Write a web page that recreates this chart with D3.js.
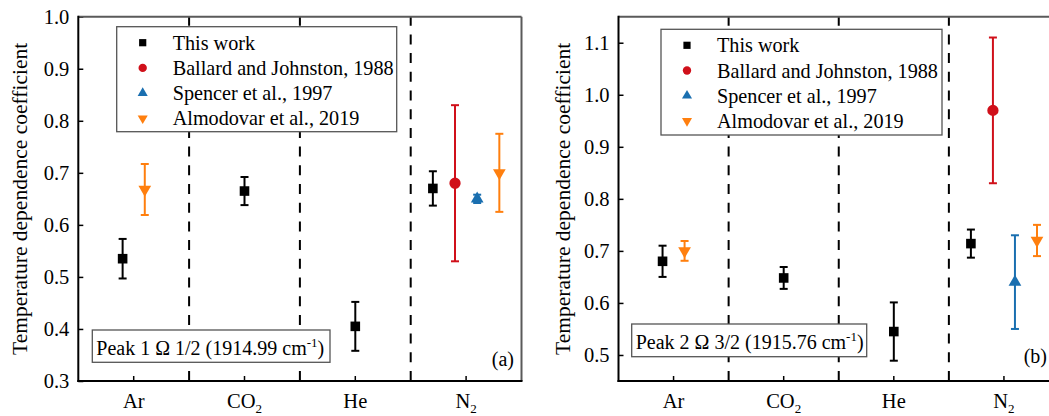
<!DOCTYPE html>
<html>
<head>
<meta charset="utf-8">
<script src="https://cdn.jsdelivr.net/npm/d3@7"></script>
<style>
  html, body { margin: 0; padding: 0; background: #fff; }
  svg { display: block; font-family: "Liberation Serif", "Times New Roman", serif; }
</style>
</head>
<body>
<svg id="chart" width="1049" height="416"></svg>
<script>
// Gas categories along the x axis
const categories = ["Ar", "CO2", "He", "N2"];
const categoryLabels = [["Ar", ""], ["CO", "2"], ["He", ""], ["N", "2"]];

// Data sources (series)
const seriesNames = ["This work", "Ballard and Johnston, 1988", "Spencer et al., 1997", "Almodovar et al., 2019"];

// Peak 1 (Ω 1/2) temperature dependence coefficients and uncertainties
const thisWorkA = [0.535, 0.665, 0.405, 0.670];
const thisWorkErrA = [0.038, 0.027, 0.047, 0.033];
const ballardA = [null, null, null, 0.680];
const ballardErrA = [null, null, null, 0.150];
const spencerA = [null, null, null, 0.650];
const spencerErrA = [null, null, null, 0.008];
const almodovarA = [0.668, null, null, 0.700];
const almodovarErrA = [0.049, null, null, 0.075];

// Peak 2 (Ω 3/2) temperature dependence coefficients and uncertainties
const thisWorkB = [0.680, 0.648, 0.545, 0.714];
const thisWorkErrB = [0.030, 0.021, 0.056, 0.027];
const ballardB = [null, null, null, 0.970];
const ballardErrB = [null, null, null, 0.140];
const spencerB = [null, null, null, 0.640];
const spencerErrB = [null, null, null, 0.090];
const almodovarB = [0.700, null, null, 0.720];
const almodovarErrB = [0.019, null, null, 0.030];

// Y axis tick values
const yTicksA = [0.3, 0.4, 0.5, 0.6, 0.7, 0.8, 0.9, 1.0];
const yTicksB = [0.5, 0.6, 0.7, 0.8, 0.9, 1.0, 1.1];

// Styling for each series
const seriesStyle = [
  { color: "#000000", symbol: d3.symbolSquare, size: 92, rotate: 0, legendSize: 52 },
  { color: "#d0101a", symbol: d3.symbolCircle, size: 100, rotate: 0, legendSize: 55 },
  { color: "#1a6fb0", symbol: d3.symbolTriangle, size: 70, rotate: 0, legendSize: 44 },
  { color: "#ff7f0e", symbol: d3.symbolTriangle, size: 70, rotate: 180, legendSize: 44 }
];

const svg = d3.select("#chart");

function drawPanel(cfg) {
  const g = svg.append("g");
  const x = d3.scaleBand().domain(categories).range([cfg.left, cfg.right]).padding(0);
  const y = d3.scaleLinear().domain(cfg.yDomain).range([cfg.bottom, cfg.top]);
  const step = x.bandwidth() * 0.2;

  // Category separators
  const bounds = categories.slice(1).map(c => x(c));
  g.selectAll(".sep").data(bounds).join("line")
    .attr("x1", d => d).attr("x2", d => d)
    .attr("y1", cfg.bottom).attr("y2", cfg.top)
    .attr("stroke", "#000").attr("stroke-width", 2)
    .attr("stroke-dasharray", "10,8.7");

  // Y axis
  const yAxis = d3.axisLeft(y).tickValues(cfg.yTicks).tickSizeInner(-5).tickSizeOuter(0)
    .tickPadding(9).tickFormat(d3.format(".1f"));
  const ya = g.append("g").attr("transform", `translate(${cfg.left},0)`).call(yAxis);
  ya.select(".domain").remove();
  ya.selectAll(".tick line").attr("stroke", "#000").attr("stroke-width", 1.5);
  ya.selectAll(".tick text").attr("font-size", 20.5).attr("fill", "#000")
    .attr("font-family", "Liberation Serif");

  // X axis ticks (inward)
  const xAxis = d3.axisBottom(x).tickSizeInner(-5).tickSizeOuter(0).tickFormat("");
  const xa = g.append("g").attr("transform", `translate(0,${cfg.bottom})`).call(xAxis);
  xa.select(".domain").remove();
  xa.selectAll(".tick line").attr("stroke", "#000").attr("stroke-width", 1.5);

  // Category labels with subscripts
  const lab = g.selectAll(".catlab").data(categories).join("text")
    .attr("x", d => x(d) + x.bandwidth() / 2)
    .attr("y", 408)
    .attr("text-anchor", "middle")
    .attr("font-size", 20.5)
    .attr("fill", "#000");
  lab.each(function(d, i) {
    const t = d3.select(this);
    t.append("tspan").text(categoryLabels[i][0]);
    if (categoryLabels[i][1]) {
      t.append("tspan").attr("font-size", 13).attr("dy", 4.5).text(categoryLabels[i][1]);
    }
  });

  // Frame: top/right gray, left/bottom black
  g.append("line").attr("x1", cfg.left).attr("x2", cfg.right).attr("y1", cfg.top).attr("y2", cfg.top)
    .attr("stroke", "#5a5a5a").attr("stroke-width", 2);
  g.append("line").attr("x1", cfg.right).attr("x2", cfg.right).attr("y1", cfg.top).attr("y2", cfg.bottom)
    .attr("stroke", "#5a5a5a").attr("stroke-width", 2);
  g.append("line").attr("x1", cfg.left).attr("x2", cfg.left).attr("y1", cfg.top - 1).attr("y2", cfg.bottom + 1)
    .attr("stroke", "#000").attr("stroke-width", 2);
  g.append("line").attr("x1", cfg.left - 1).attr("x2", cfg.right + 1).attr("y1", cfg.bottom).attr("y2", cfg.bottom)
    .attr("stroke", "#000").attr("stroke-width", 2);

  // Legend box (white fill over separators)
  const lg = g.append("g");
  lg.append("rect")
    .attr("x", cfg.legend.x).attr("y", cfg.legend.y)
    .attr("width", cfg.legend.w).attr("height", cfg.legend.h)
    .attr("fill", "#fff").attr("stroke", "#555").attr("stroke-width", 1.3);
  seriesNames.forEach((name, i) => {
    const cy = cfg.legend.y + 16 + i * 25.2;
    const st = seriesStyle[i];
    lg.append("path")
      .attr("d", d3.symbol(st.symbol, st.legendSize)())
      .attr("transform", `translate(${cfg.legend.x + 26},${cy}) rotate(${st.rotate})`)
      .attr("fill", st.color);
    lg.append("text")
      .attr("x", cfg.legend.x + 56).attr("y", cy + 7)
      .attr("font-size", 20.2).attr("fill", "#000").text(name);
  });

  // Series data points with error bars
  const values = cfg.values;
  const errs = cfg.errs;
  categories.forEach((c, ci) => {
    const present = seriesNames.map((s, si) => si).filter(si => values[si][ci] != null);
    const n = present.length;
    const sub = d3.scalePoint().domain(present).range([-(n - 1) / 2 * step, (n - 1) / 2 * step]);
    present.forEach(si => {
      const v = values[si][ci], e = errs[si][ci];
      const st = seriesStyle[si];
      const cx = x(c) + x.bandwidth() / 2 + (n > 1 ? sub(si) : 0);
      const cap = 4;
      const eg = g.append("g").attr("stroke", st.color).attr("stroke-width", 2);
      eg.append("line").attr("x1", cx).attr("x2", cx).attr("y1", y(v - e)).attr("y2", y(v + e));
      eg.append("line").attr("x1", cx - cap).attr("x2", cx + cap).attr("y1", y(v + e)).attr("y2", y(v + e));
      eg.append("line").attr("x1", cx - cap).attr("x2", cx + cap).attr("y1", y(v - e)).attr("y2", y(v - e));
      g.append("path")
        .attr("d", d3.symbol(st.symbol, st.size)())
        .attr("transform", `translate(${cx},${y(v)}) rotate(${st.rotate})`)
        .attr("fill", st.color);
    });
  });

  // Peak annotation box
  const ab = cfg.annot;
  g.append("rect").attr("x", ab.x).attr("y", ab.y).attr("width", ab.w).attr("height", ab.h)
    .attr("fill", "#fff").attr("stroke", "#555").attr("stroke-width", 1.3);
  const at = g.append("text").attr("x", ab.x + 4).attr("y", ab.y + 25)
    .attr("font-size", 20).attr("fill", "#000");
  at.append("tspan").text(ab.text);
  at.append("tspan").attr("font-size", 13).attr("dy", -8).text("-1");
  at.append("tspan").attr("dy", 8).text(")");

  // Panel letter
  g.append("text").attr("x", cfg.letter.x).attr("y", cfg.letter.y)
    .attr("text-anchor", "end").attr("font-size", 20).attr("fill", "#000").text(cfg.letter.text);

  // Y axis title
  g.append("text")
    .attr("transform", `translate(${cfg.titleX},${(cfg.top + cfg.bottom) / 2}) rotate(-90)`)
    .attr("text-anchor", "middle").attr("font-size", 21.5).attr("fill", "#000")
    .text("Temperature dependence coefficient");
}

drawPanel({
  left: 78.3, right: 521.5, top: 16.7, bottom: 381,
  yDomain: [0.3, 1.0], yTicks: yTicksA,
  values: [thisWorkA, ballardA, spencerA, almodovarA],
  errs: [thisWorkErrA, ballardErrA, spencerErrA, almodovarErrA],
  legend: { x: 116.7, y: 26.7, w: 280, h: 105 },
  annot: { x: 92.3, y: 330, w: 237.7, h: 32.3, text: "Peak 1 \u03A9 1/2 (1914.99 cm" },
  letter: { x: 514, y: 366, text: "(a)" },
  titleX: 27
});

drawPanel({
  left: 618.5, right: 1059, top: 16.7, bottom: 381,
  yDomain: [0.45, 1.15], yTicks: yTicksB,
  values: [thisWorkB, ballardB, spencerB, almodovarB],
  errs: [thisWorkErrB, ballardErrB, spencerErrB, almodovarErrB],
  legend: { x: 661, y: 29.3, w: 281, h: 105.7 },
  annot: { x: 631.7, y: 324, w: 235, h: 32.7, text: "Peak 2 \u03A9 3/2 (1915.76 cm" },
  letter: { x: 1047, y: 363, text: "(b)" },
  titleX: 570
});
</script>
</body>
</html>
